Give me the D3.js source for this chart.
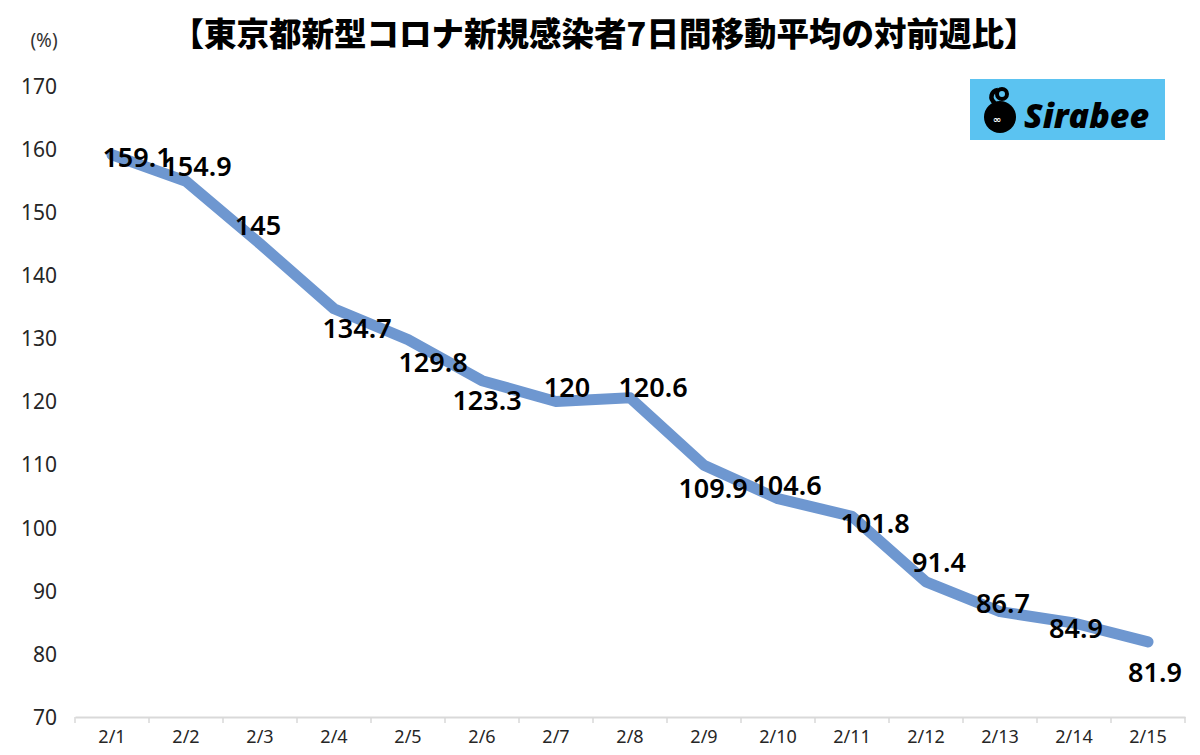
<!DOCTYPE html>
<html>
<head>
<meta charset="utf-8">
<script src="https://cdn.jsdelivr.net/npm/d3@7"></script>
<style>
  html, body { margin: 0; padding: 0; background: #fff; }
  svg { display: block; }
</style>
</head>
<body>
<svg id="chart" width="1200" height="755"></svg>
<script>
const title = "【東京都新型コロナ新規感染者7日間移動平均の対前週比】";
const unitLabel = "(%)";
const categories = ["2/1","2/2","2/3","2/4","2/5","2/6","2/7","2/8","2/9","2/10","2/11","2/12","2/13","2/14","2/15"];
const values = [159.1,154.9,145,134.7,129.8,123.3,120,120.6,109.9,104.6,101.8,91.4,86.7,84.9,81.9];
const yTicks = [70,80,90,100,110,120,130,140,150,160,170];

// label placement offsets (layout only), in px relative to each point
const labelOffsets = [[25,2],[11,-16],[-2,-19],[23,19],[25,22],[5,19],[11,-15],[23,-11],[9,22],[9,-14],[23,6],[13,-20],[3,-9],[2,5],[7,30]];

const svg = d3.select("#chart");
const plotLeft = 75, plotRight = 1185, plotTop = 86, plotBottom = 717;

const x = d3.scaleBand().domain(categories).range([plotLeft, plotRight]).padding(0);
const y = d3.scaleLinear().domain([70, 170]).range([plotBottom, plotTop]);
const cx = d => x(d) + x.bandwidth() / 2;

// Title
svg.append("text")
  .attr("x", 604).attr("y", 31)
  .attr("text-anchor", "middle")
  .attr("dominant-baseline", "central")
  .style("font-family", "'Noto Sans CJK JP', sans-serif")
  .style("font-weight", 900)
  .style("font-size", "32.5px")
  .attr("fill", "#000")
  .text(title);

// Unit label
svg.append("text")
  .attr("x", 44).attr("y", 40)
  .attr("text-anchor", "middle")
  .attr("dominant-baseline", "central")
  .style("font-family", "'Noto Sans', sans-serif")
  .style("font-size", "19px")
  .attr("fill", "#333")
  .text(unitLabel);

// Y axis labels
const yAxis = d3.axisLeft(y).tickValues(yTicks).tickSize(0).tickPadding(0);
const gy = svg.append("g").attr("transform", `translate(57,0)`).call(yAxis);
gy.select(".domain").remove();
gy.selectAll("text")
  .style("font-family", "'Noto Sans', sans-serif")
  .style("font-size", "21px")
  .attr("fill", "#262626")
  .attr("dy", "0.35em");

// X axis
const xAxis = d3.axisBottom(x).tickSize(0).tickPadding(0);
const gx = svg.append("g").attr("transform", `translate(0,${plotBottom})`).call(xAxis);
gx.select(".domain").attr("stroke", "#d9d9d9").attr("stroke-width", 2);
gx.selectAll("text")
  .attr("y", 20)
  .attr("dy", "0.35em")
  .style("font-family", "'Noto Sans', sans-serif")
  .style("font-size", "18px")
  .attr("fill", "#262626");
// boundary tick marks
const bounds = categories.map(c => x(c)).concat([plotRight]);
gx.selectAll("line.bt").data(bounds).enter().append("line")
  .attr("class", "bt")
  .attr("x1", d => d).attr("x2", d => d)
  .attr("y1", 0).attr("y2", 6)
  .attr("stroke", "#d9d9d9").attr("stroke-width", 1.5);

// Line
const line = d3.line()
  .x((d, i) => cx(categories[i]))
  .y(d => y(d));
svg.append("path")
  .datum(values)
  .attr("d", line)
  .attr("fill", "none")
  .attr("stroke", "#6e97d0")
  .attr("stroke-width", 11)
  .attr("stroke-linejoin", "round")
  .attr("stroke-linecap", "round");

// Data labels
svg.append("g").selectAll("text")
  .data(values).enter().append("text")
  .attr("x", (d, i) => cx(categories[i]) + labelOffsets[i][0])
  .attr("y", (d, i) => y(d) + labelOffsets[i][1])
  .attr("text-anchor", "middle")
  .attr("dominant-baseline", "central")
  .style("font-family", "'Noto Sans', sans-serif")
  .style("font-weight", 600)
  .style("font-size", "27px")
  .attr("fill", "#000")
  .text(d => d);

// Logo
const logo = svg.append("g");
logo.append("rect")
  .attr("x", 970).attr("y", 79).attr("width", 195).attr("height", 61)
  .attr("fill", "#5bc3f1");
logo.append("circle").attr("cx", 1000).attr("cy", 117).attr("r", 16).attr("fill", "#000");
logo.append("path")
  .attr("d", "M995,103 C989,99 991,91 998,90")
  .attr("fill", "none").attr("stroke", "#000").attr("stroke-width", 4.5);
logo.append("circle").attr("cx", 1002).attr("cy", 94).attr("r", 5)
  .attr("fill", "none").attr("stroke", "#000").attr("stroke-width", 4);
logo.append("text")
  .attr("x", 997).attr("y", 119)
  .attr("text-anchor", "middle").attr("dominant-baseline", "central")
  .style("font-family", "'DejaVu Sans', sans-serif")
  .style("font-size", "10px").style("font-weight", 700)
  .attr("fill", "#fff").text("∞");
logo.append("text")
  .attr("x", 1024).attr("y", 128)
  .style("font-family", "'Open Sans', sans-serif")
  .style("font-weight", 800)
  .style("font-style", "italic")
  .style("font-size", "34px")
  .attr("fill", "#000")
  .text("Sirabee");
</script>
</body>
</html>
